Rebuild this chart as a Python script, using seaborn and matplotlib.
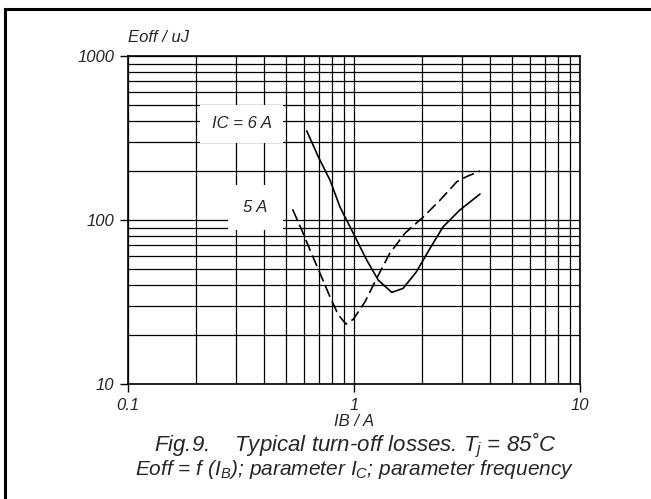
import numpy as np
import pandas as pd
import seaborn as sns
import matplotlib.pyplot as plt
from matplotlib.patches import Rectangle

# curve IC = 6 A (solid)
ib_6a = [0.618, 0.695, 0.783, 0.867, 0.993, 1.138, 1.28, 1.47, 1.65, 1.89, 2.17, 2.48, 2.94, 3.61]
eoff_6a = [349, 243, 175, 120, 83, 57, 43, 36.2, 38.3, 48.4, 67.2, 91, 115, 144]

# curve IC = 5 A (dashed)
ib_5a = [0.535, 0.587, 0.639, 0.707, 0.783, 0.852, 0.922, 0.993, 1.12, 1.26, 1.44, 1.68, 2.03, 2.40, 2.85, 3.15, 3.61]
eoff_5a = [116, 87, 65.6, 47.3, 34, 26.4, 23.2, 24.8, 31.8, 44.1, 62.7, 83, 104.7, 132, 171, 184, 199]

x_ticks = [0.1, 1, 10]
x_ticklabels = ["0.1", "1", "10"]
y_ticks = [10, 100, 1000]
y_ticklabels = ["10", "100", "1000"]

sns.set_style("white")
plt.rcParams['font.family'] = ['Liberation Sans', 'DejaVu Sans']
plt.rcParams['font.style'] = 'italic'
plt.rcParams['mathtext.fontset'] = 'custom'
plt.rcParams['mathtext.it'] = 'Liberation Sans:italic'
plt.rcParams['mathtext.rm'] = 'Liberation Sans:italic'

fig = plt.figure(figsize=(6.51, 4.99), dpi=100)
ax = fig.add_axes([128 / 651, 115 / 499, 452 / 651, 328 / 499])

sns.lineplot(x=ib_6a, y=eoff_6a, ax=ax, color='black', lw=1.2, zorder=4)
sns.lineplot(x=ib_5a, y=eoff_5a, ax=ax, color='black', lw=1.2, zorder=4,
             linestyle=(0, (7, 3)))

ax.set_xscale('log')
ax.set_yscale('log')
ax.set_xlim(0.1, 10)
ax.set_ylim(10, 1000)
ax.set_xticks(x_ticks)
ax.set_xticklabels(x_ticklabels)
ax.set_yticks(y_ticks)
ax.set_yticklabels(y_ticklabels)
ax.tick_params(which='major', direction='out', length=6, width=1, color='black',
               labelsize=12, pad=4, bottom=True, left=True)
ax.tick_params(which='minor', length=0)
ax.set_axisbelow(True)
ax.grid(which='both', color='black', lw=0.9)
for s in ax.spines.values():
    s.set_color('black')
    s.set_linewidth(1.2)

# curve labels
ax.text(0.318, 385, "IC = 6 A", fontsize=12, ha='center', va='center', zorder=3,
        bbox=dict(facecolor='white', edgecolor='none', boxstyle='square,pad=0.7'))
ax.text(0.366, 119, "5 A", fontsize=12, ha='center', va='center', zorder=3,
        bbox=dict(facecolor='white', edgecolor='none', boxstyle='square,pad=0.9'))

ax.text(0, 1.043, "Eoff / uJ", transform=ax.transAxes, fontsize=12, ha='left', va='baseline')
ax.text(0.5, -0.127, "IB / A", transform=ax.transAxes, fontsize=12, ha='center', va='baseline')

fig.text(355 / 651, 1 - 451 / 499, "Fig.9.    Typical turn-off losses. $T_j$ = 85˚C",
         fontsize=16, ha='center', va='baseline')
fig.text(355 / 651, 1 - 475 / 499, "Eoff = f ($I_B$); parameter $I_C$; parameter frequency",
         fontsize=15, ha='center', va='baseline')

fig.add_artist(Rectangle((5 / 651, -0.1), 1.2, 1.1 - 9.5 / 499, fill=False,
                         lw=2.2, edgecolor='black', transform=fig.transFigure))

fig.savefig("out.png", dpi=100)
